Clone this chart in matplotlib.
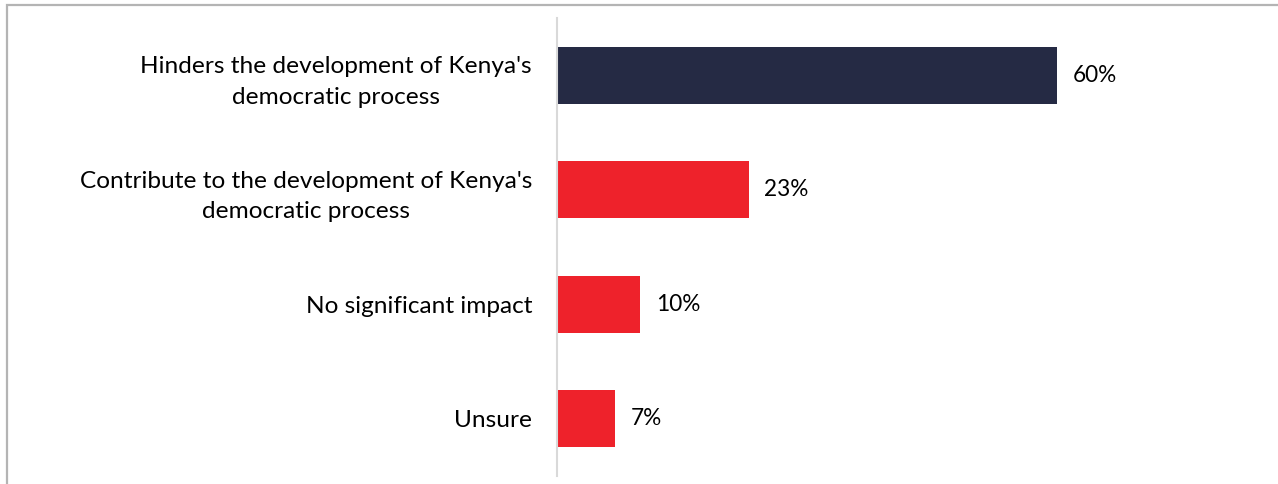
import matplotlib.pyplot as plt
from matplotlib.patches import Rectangle

# data
categories = [
    "Hinders the development of Kenya's\ndemocratic process",
    "Contribute to the development of Kenya's\ndemocratic process",
    "No significant impact",
    "Unsure",
]
values = [60, 23, 10, 7]
colors = ["#252a44", "#ee222b", "#ee222b", "#ee222b"]

W, H = 1278, 484
plt.rcParams['font.family'] = ['Lato', 'DejaVu Sans']

fig = plt.figure(figsize=(W / 100, H / 100), dpi=100)

# outer frame (only left and top edges visible)
fig.patches.append(Rectangle((7 / W, -0.1), 1.2, 1 - 5 / H + 0.1,
                             transform=fig.transFigure, fill=False,
                             edgecolor="#b4b4b4", linewidth=1.6))

ax = fig.add_axes([557 / W, 1 - 476 / H, 1 - 557 / W, 458 / H])
ypos = list(range(len(categories)))
ax.barh(ypos, values, height=0.5, color=colors)
ax.set_ylim(len(categories) - 0.5, -0.5)
ax.set_xlim(0, (W - 557) / 8.333)

for y, v in zip(ypos, values):
    ax.text(v + 1.9, y, f"{v}%", va="center", ha="left", fontsize=16.3, color="black")

ax.set_yticks(ypos)
ax.set_yticklabels(categories, fontsize=17.6, ha="right", multialignment="center",
                   linespacing=1.55)
ax.tick_params(axis="y", length=0, pad=18)
ax.set_xticks([])
for s in ["top", "right", "bottom"]:
    ax.spines[s].set_visible(False)
ax.spines["left"].set_color("#d9d9d9")
ax.spines["left"].set_linewidth(1.5)

fig.savefig("out.png", dpi=100)
